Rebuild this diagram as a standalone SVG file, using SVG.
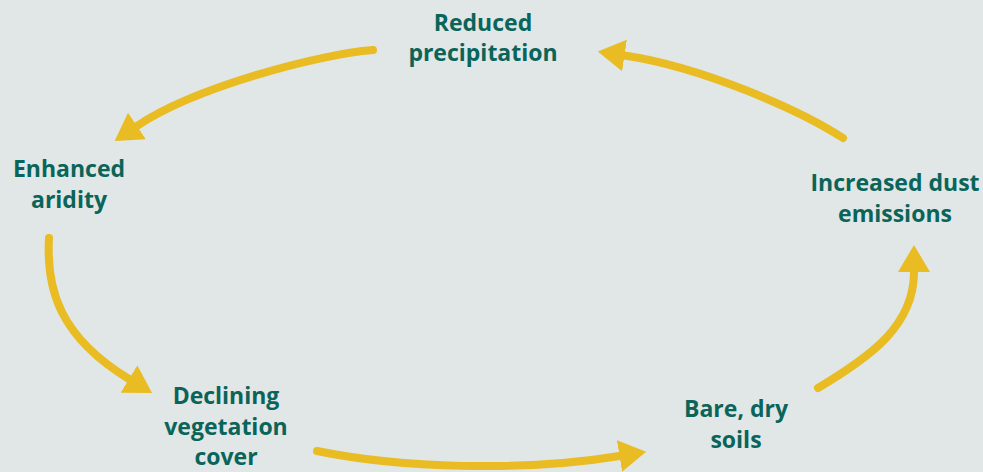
<svg xmlns="http://www.w3.org/2000/svg" width="983" height="472" viewBox="0 0 983 472">
<defs>
<style>
.bg{fill:#e1e6e6}
.conn{fill:none;stroke:#e8bc22;stroke-width:8;stroke-linecap:round}
.lbl{font-family:"Open Sans","Noto Sans","DejaVu Sans",sans-serif;font-weight:700;font-size:23px;fill:#0a6459;text-anchor:middle}
</style>
<marker id="head" markerUnits="userSpaceOnUse" markerWidth="28" markerHeight="32" refX="0" refY="16" orient="auto" viewBox="0 0 28 32">
<path d="M0,0 L27,16 L0,32 Z" fill="#e8bc22"/>
</marker>
</defs>
<rect class="bg" x="0" y="0" width="983" height="472"/>
<g id="connectors">
<path class="conn" marker-end="url(#head)" d="M373,50 C320,54 195,87 137,126"/>
<path class="conn" marker-end="url(#head)" d="M843,138 C800,110 702,67 624.5,55.5"/>
<path class="conn" marker-end="url(#head)" d="M49,238 C46,290 60,337 129,379"/>
<path class="conn" marker-end="url(#head)" d="M317,451 C400,468 521.5,472 619.5,456"/>
<path class="conn" marker-end="url(#head)" d="M818,388 C870,357 914,326 914,272"/>
</g>
<g id="node-reduced-precipitation">
<text class="lbl" x="483" y="31">Reduced</text>
<text class="lbl" x="483" y="61">precipitation</text>
</g>
<g id="node-enhanced-aridity">
<text class="lbl" x="69" y="177">Enhanced</text>
<text class="lbl" x="69" y="208">aridity</text>
</g>
<g id="node-declining-vegetation">
<text class="lbl" x="226" y="404">Declining</text>
<text class="lbl" x="226" y="435">vegetation</text>
<text class="lbl" x="226" y="465">cover</text>
</g>
<g id="node-bare-dry-soils">
<text class="lbl" x="736" y="417">Bare, dry</text>
<text class="lbl" x="736" y="448">soils</text>
</g>
<g id="node-increased-dust">
<text class="lbl" x="895" y="191">Increased dust</text>
<text class="lbl" x="895" y="222">emissions</text>
</g>
</svg>
